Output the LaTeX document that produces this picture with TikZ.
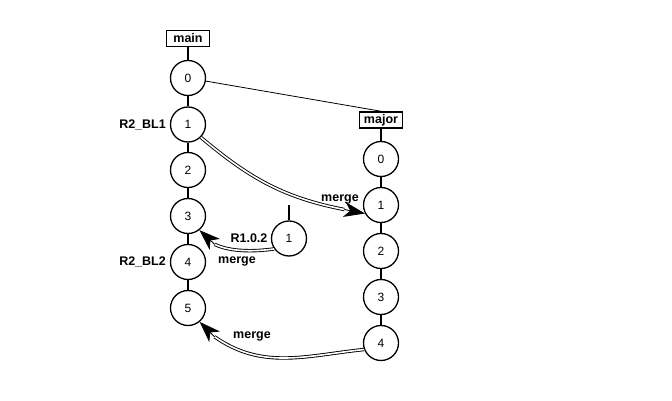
\documentclass[tikz,border=0pt]{standalone}
\usepackage{fontspec}
\setmainfont{Liberation Sans}
\usetikzlibrary{arrows.meta,calc}
\begin{document}
\begin{tikzpicture}[x=1pt,y=1pt,
  rev/.style={circle,draw,line width=1.3pt,minimum size=35pt,inner sep=0pt,font=\fontsize{12}{14}\selectfont},
  brbox/.style={draw,line width=1.5pt,minimum width=43pt,minimum height=16pt,inner sep=1pt,font=\bfseries\fontsize{12.5}{14}\selectfont},
  lbl/.style={font=\bfseries\fontsize{12.5}{14}\selectfont,inner sep=0pt},
  trunk/.style={line width=2.2pt},
  mergeline/.style={double,line width=0.9pt,double distance=1.6pt},
  tipline/.style={-{Stealth[length=21pt,width=15pt,inset=6pt]},line width=0.9pt}
]
\useasboundingbox (0,0) rectangle (672,400);
% main trunk
\node[brbox] (main) at (188,361.5) {main};
\node[rev] (m0) at (188,322) {0};
\node[rev] (m1) at (188,275.5) {1};
\node[rev] (m2) at (188,230) {2};
\node[rev] (m3) at (188,184) {3};
\node[rev] (m4) at (188,138) {4};
\node[rev] (m5) at (188,92) {5};
% major branch
\node[brbox] (major) at (381,280) {major};
\node[rev] (j0) at (381,241) {0};
\node[rev] (j1) at (381,195) {1};
\node[rev] (j2) at (381,149) {2};
\node[rev] (j3) at (381,103) {3};
\node[rev] (j4) at (381,57) {4};
% R1.0.2 branch
\node[rev] (b1) at (289,161.5) {1};
\coordinate (stub) at (289,195);
% labels
\node[lbl,anchor=east] (l1) at (166,275.5) {R2\_BL1};
\node[lbl,anchor=east] (l2) at (166,138) {R2\_BL2};
\node[lbl] (lm1) at (340,201) {merge};
\node[lbl] (lr) at (249,162) {R1.0.2};
\node[lbl] (lm2) at (237,139) {merge};
\node[lbl] (lm3) at (252,64) {merge};
% trunks
\draw[trunk] (main) -- (m0) (m0) -- (m1) (m1) -- (m2) (m2) -- (m3) (m3) -- (m4) (m4) -- (m5);
\draw[trunk] (major) -- (j0) (j0) -- (j1) (j1) -- (j2) (j2) -- (j3) (j3) -- (j4);
\draw[trunk] (b1) -- (stub);
% branch point
\draw[line width=0.8pt] (m0) -- (major.north);
% merges
\coordinate (t1) at ($(j1.208)+(169:21pt)$);
\draw[mergeline] (m1.-45) to[out=-40,in=169] (t1);
\draw[tipline] (t1) -- (j1.208);
\coordinate (t2) at ($(m3.-51)+(-43:21pt)$);
\draw[mergeline] (b1.215) to[out=188,in=-25,looseness=0.8] (t2);
\draw[tipline] (t2) -- (m3.-51);
\coordinate (t3) at ($(m5.-50)+(-45:21pt)$);
\draw[mergeline] (j4.201) to[out=186,in=-35] (t3);
\draw[tipline] (t3) -- (m5.-50);
\end{tikzpicture}
\end{document}
